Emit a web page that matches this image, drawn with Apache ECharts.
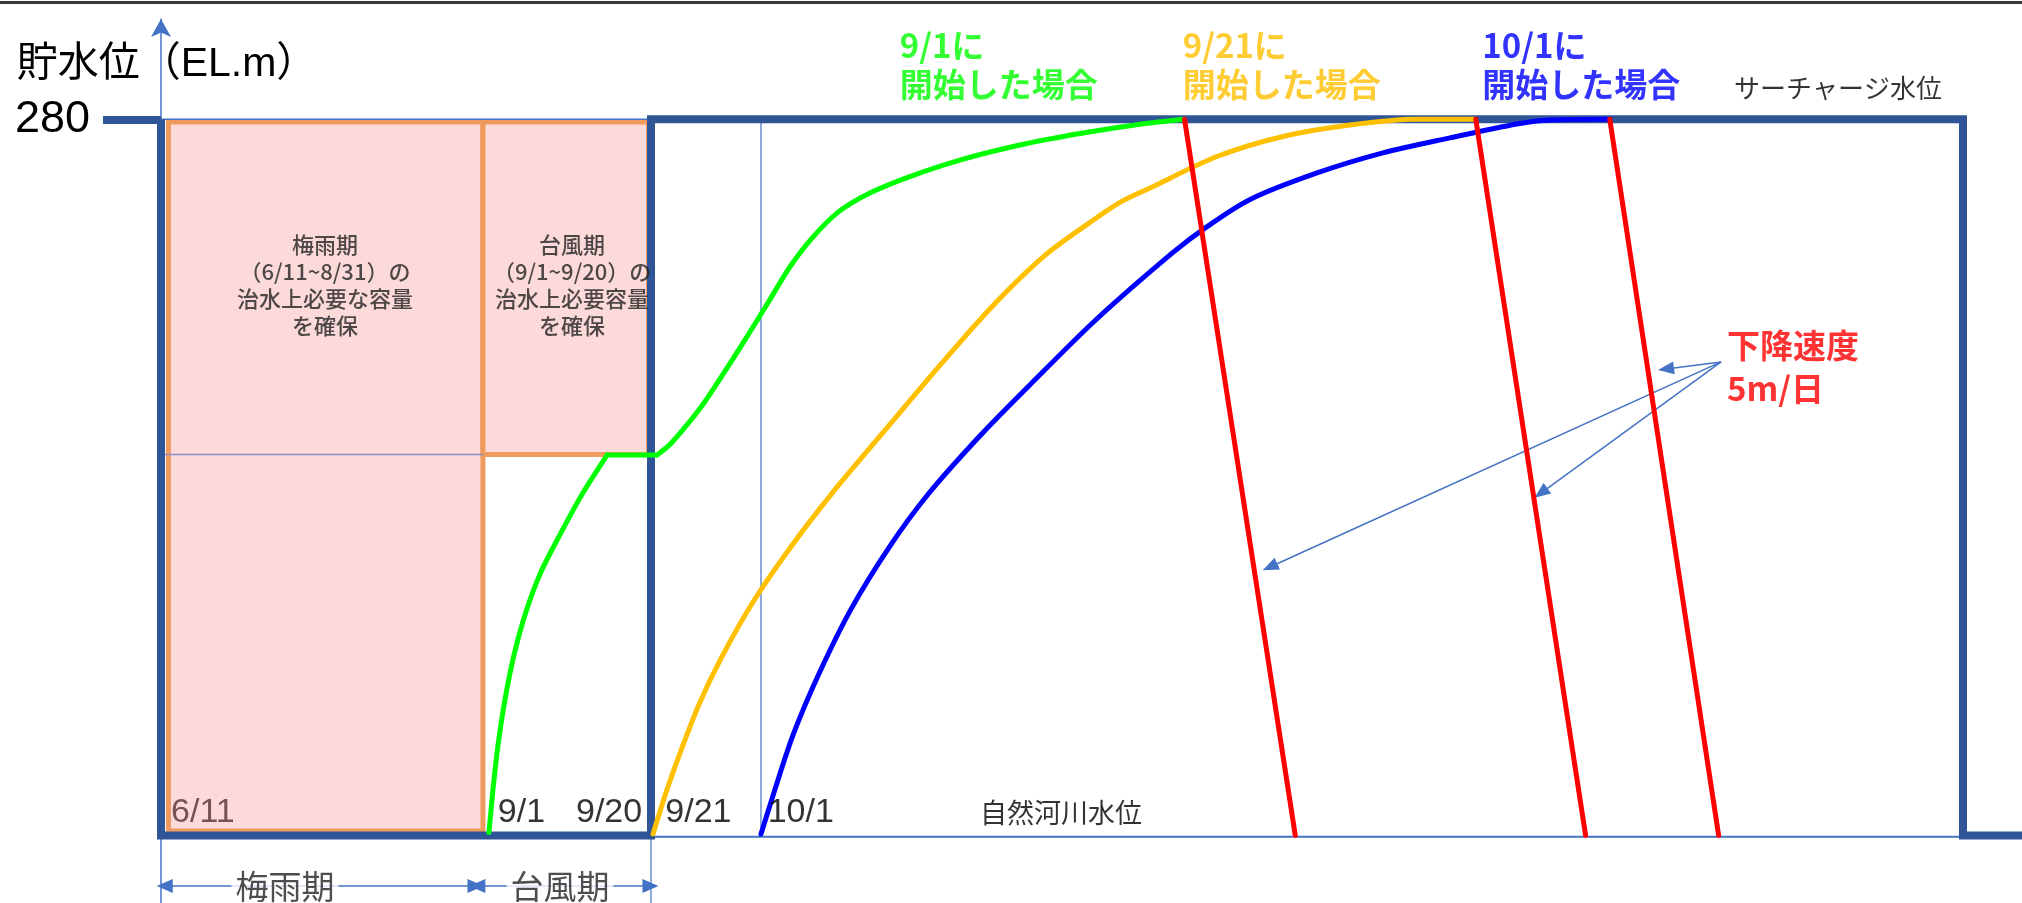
<!DOCTYPE html>
<html>
<head>
<meta charset="utf-8">
<title>試験湛水 貯水位イメージ</title>
<script src="https://cdn.jsdelivr.net/npm/echarts@6/dist/echarts.min.js"></script>
<style>
  html, body { margin: 0; padding: 0; background: #fff; }
  #chart { width: 2022px; height: 903px; }
</style>
</head>
<body>
<div id="chart"></div>
<script>
// horizontal axis is schematic (0-100 across the plot), vertical axis is EL.m
const Y_MIN = 225;
const Y_MAX = 287;
const SURCHARGE = 280;
const RIVER = 230;

// dam outline (thick dark blue)
const damX = [0, 0, 26.33, 26.33, 96.83, 96.83, 100];
const damY = [280, 230, 230, 280, 280, 230, 230];

// flood-control capacity boxes: [x0, x1, yBottom, yTop]
const boxRainy = [0.4, 17.3, 230.3, 279.8];
const boxTyphoon = [17.3, 26.2, 256.6, 279.8];
const boxTexts = [
  "梅雨期\n（6/11~8/31）の\n治水上必要な容量\nを確保",
  "台風期\n（9/1~9/20）の\n治水上必要容量\nを確保"
];
const boxTextX = [8.81, 22.09];
const boxTextY = 268.4;

// 9/1 start: rise to the typhoon-season limit, hold, then refill
const greenRiseX = [17.62, 17.84, 18.11, 18.48, 18.97, 19.61, 20.42, 21.44, 22.62, 23.97];
const greenRiseY = [230.2, 233.2, 236.3, 239.45, 242.6, 245.6, 248.4, 251.0, 253.8, 256.55];
const greenRefillX = [26.65, 27.35, 28.16, 29.07, 30.15, 31.38, 32.62, 33.80, 34.98, 36.37, 38.09, 40.24, 42.93, 46.15, 49.38, 52.61, 54.97];
const greenRefillY = [256.55, 257.3, 258.5, 260.0, 262.1, 264.6, 267.2, 269.7, 271.7, 273.5, 274.85, 276.0, 277.15, 278.2, 279.0, 279.65, 280.0];
// 9/21 and 10/1 starts
const orangeX = [26.44, 27.19, 27.99, 28.96, 30.15, 31.86, 33.96, 36.38, 39.17, 41.91, 44.71, 47.45, 49.92, 51.53, 53.14, 56.74, 60.29, 63.89, 67.49, 70.61];
const orangeY = [230.1, 233.2, 236.1, 239.3, 242.5, 246.4, 250.35, 254.4, 258.7, 262.9, 267.0, 270.45, 272.8, 274.2, 275.2, 277.4, 278.8, 279.6, 280.0, 280.0];
const blueX = [32.24, 32.94, 33.96, 35.36, 37.08, 39.17, 41.21, 44.01, 46.80, 50.24, 54.38, 56.21, 58.52, 62.12, 65.66, 69.26, 72.86, 74.64, 77.86];
const blueY = [230.1, 233.0, 237.0, 241.3, 245.8, 250.2, 253.8, 257.9, 261.6, 266.0, 270.7, 272.5, 274.4, 276.25, 277.65, 278.7, 279.67, 279.95, 280.0];

// drawdown lines, 5 m/day
const dropTopX = [55.0, 70.65, 77.85];
const dropBottomX = [60.95, 76.55, 83.7];

// callout arrows from "下降速度"
const calloutFrom = [83.83, 263.06];
const calloutToX = [80.87, 74.15, 59.59];
const calloutToY = [262.57, 253.9, 248.74];

// date labels along the bottom
const dateLabels = ["6/11", "9/1", "9/20", "9/21", "10/1"];
const dateLabelX = [0.54, 18.1, 22.3, 27.1, 32.6];
const dateLabelY = 231.6;

// start-case notes
const caseNotes = ["9/1に\n開始した場合", "9/21に\n開始した場合", "10/1に\n開始した場合"];
const caseNoteX = [39.7, 54.9, 71.0];
const caseNoteY = 283.8;
const caseColors = ["#00FF00", "#FFC000", "#0000FF"];

// period dimension arrows under the axis
const periodNames = ["梅雨期", "台風期"];
const periodStart = [0.2, 17.0];
const periodEnd = [16.9, 26.3];
const periodTextX = [6.66, 21.44];
const periodY = 226.46;

const TEXT_FONT = "'Liberation Sans', 'Noto Sans CJK JP', sans-serif";
const JP_FONT = "'Noto Sans CJK JP', sans-serif";

const pairs = (xs, ys) => xs.map((x, i) => [x, ys[i]]);

function lineSeries(name, data, color, width, z, smooth) {
  return {
    name,
    type: "line",
    data,
    symbol: "none",
    smooth: smooth || false,
    clip: false,
    z,
    lineStyle: { color, width, cap: "round", join: "round" },
    silent: true
  };
}

function note(x, y, text, label) {
  return { value: [x, y], label: Object.assign({ show: true, formatter: text }, label) };
}

const annotations = [];
boxTexts.forEach((t, i) => annotations.push(note(boxTextX[i], boxTextY, t, {
  position: "inside", fontSize: 22, lineHeight: 27, fontWeight: 500, color: "#222", fontFamily: JP_FONT
})));
dateLabels.forEach((t, i) => annotations.push(note(dateLabelX[i], dateLabelY, t, {
  position: "right", distance: 0, fontSize: 34, color: i === 0 ? "#55302f" : "#000", fontFamily: TEXT_FONT
})));
caseNotes.forEach((t, i) => annotations.push(note(caseNoteX[i], caseNoteY, t, {
  position: "right", distance: 0, fontSize: 33, lineHeight: 39, fontWeight: "bold", color: caseColors[i], fontFamily: JP_FONT
})));
annotations.push(note(84.52, 282.2, "サーチャージ水位", {
  position: "right", distance: 0, fontSize: 26, color: "#000", fontFamily: JP_FONT
}));
annotations.push(note(84.15, 262.7, "下降速度\n5m/日", {
  position: "right", distance: 0, fontSize: 33, lineHeight: 43, fontWeight: "bold", color: "#FF0000", fontFamily: JP_FONT
}));
annotations.push(note(48.36, 231.57, "自然河川水位", {
  position: "inside", fontSize: 27, color: "#000", fontFamily: JP_FONT
}));
periodNames.forEach((t, i) => annotations.push(note(periodTextX[i], periodY, t, {
  position: "inside", fontSize: 33, color: "#222", fontFamily: JP_FONT, backgroundColor: "#fff", padding: [0, 4]
})));

const greenRise = pairs(greenRiseX, greenRiseY);
const greenRefill = pairs(greenRefillX, greenRefillY);

const series = [
  {
    name: "boxes",
    type: "line",
    data: [],
    z: 1,
    markArea: {
      silent: true,
      itemStyle: { color: "#FDDADA", borderColor: "#F19A5E", borderWidth: 5 },
      data: [boxRainy, boxTyphoon].map((b) => [
        { xAxis: b[0], yAxis: b[3] },
        { xAxis: b[1], yAxis: b[2] }
      ])
    }
  },
  lineSeries("surcharge", [[0, SURCHARGE], [26.33, SURCHARGE]], "#4472C4", 1.5, 2),
  lineSeries("sept1", [[0, 256.6], [17.3, 256.6]], "#8c8fc8", 1.5, 2),
  lineSeries("oct1", [[32.24, SURCHARGE], [32.24, RIVER]], "#4472C4", 1.2, 2),
  lineSeries("river", [[26.33, RIVER - 0.1], [96.83, RIVER - 0.1]], "#4472C4", 2, 2),
  lineSeries("ext", [[26.33, RIVER], [26.33, Y_MIN]], "#4472C4", 1.2, 2),
  Object.assign(lineSeries("dam", pairs(damX, damY), "#2F5597", 8, 4), {
    lineStyle: { color: "#2F5597", width: 8, cap: "butt", join: "miter" }
  }),
  lineSeries("9/1", greenRise, "#00FF00", 5, 6, 0.3),
  lineSeries("9/1 hold", [greenRise[greenRise.length - 1], greenRefill[0]], "#00FF00", 5, 6),
  lineSeries("9/1 refill", greenRefill, "#00FF00", 5, 6, 0.3),
  lineSeries("9/21", pairs(orangeX, orangeY), "#FFC000", 5, 6, 0.3),
  lineSeries("10/1", pairs(blueX, blueY), "#0000FF", 5, 6, 0.3)
];

dropTopX.forEach((x, i) => {
  series.push(lineSeries("drop" + i, [[x, SURCHARGE], [dropBottomX[i], RIVER]], "#FF0000", 5, 7));
});

series.push({
  name: "arrows",
  type: "line",
  data: [],
  z: 8,
  markLine: {
    silent: true,
    animation: false,
    label: { show: false },
    lineStyle: { color: "#4472C4", width: 1.5, type: "solid" },
    data: calloutToX.map((x, i) => [
      { coord: calloutFrom, symbol: "none" },
      { coord: [x, calloutToY[i]], symbol: "triangle", symbolSize: [13, 16] }
    ]).concat(periodNames.map((n, i) => [
      { coord: [periodStart[i], periodY], symbol: "triangle", symbolSize: [14, 16] },
      { coord: [periodEnd[i], periodY], symbol: "triangle", symbolSize: [14, 16] }
    ]))
  }
});

series.push({
  name: "notes",
  type: "scatter",
  symbolSize: 0,
  z: 10,
  clip: false,
  silent: true,
  data: annotations
});

const chart = echarts.init(document.getElementById("chart"), null, { renderer: "canvas" });
chart.setOption({
  animation: false,
  backgroundColor: "#fff",
  grid: { left: 161, top: 19, width: 1861, height: 888, outerBoundsMode: "none" },
  xAxis: { type: "value", min: 0, max: 100, show: false },
  yAxis: {
    type: "value",
    min: Y_MIN,
    max: Y_MAX,
    name: "貯水位（EL.m）",
    nameLocation: "end",
    nameGap: -46,
    nameTextStyle: {
      fontSize: 41, color: "#000", fontFamily: TEXT_FONT,
      align: "center", verticalAlign: "middle", padding: [0, 0, 0, 12]
    },
    axisLine: {
      show: true,
      symbol: ["none", "arrow"],
      symbolSize: [15, 18],
      lineStyle: { color: "#4472C4", width: 1.5 }
    },
    axisTick: {
      show: true,
      customValues: [SURCHARGE],
      length: 58,
      lineStyle: { color: "#2F5597", width: 8 }
    },
    axisLabel: {
      customValues: [SURCHARGE],
      margin: 71,
      fontSize: 45,
      color: "#000",
      fontFamily: TEXT_FONT
    },
    splitLine: { show: false }
  },
  graphic: [{
    type: "rect",
    shape: { x: 0, y: 1, width: 2022, height: 3 },
    style: { fill: "#3a3a3a" }
  }],
  series
});
</script>
</body>
</html>
